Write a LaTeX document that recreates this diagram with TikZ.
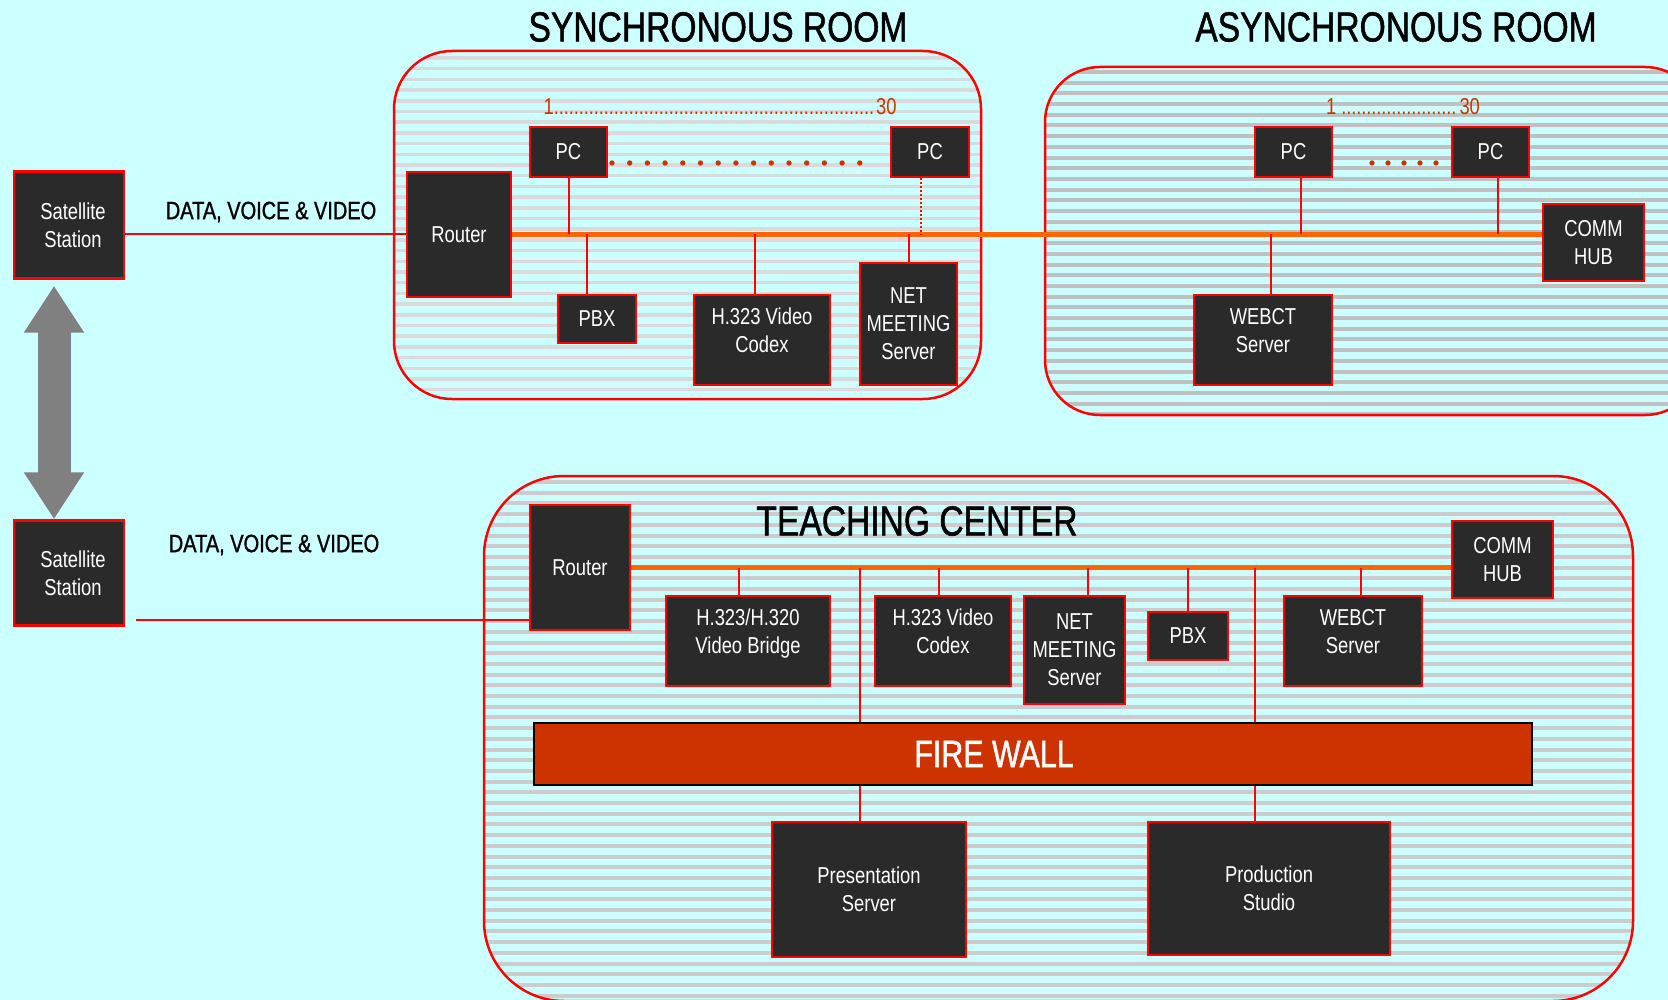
\documentclass[tikz,border=0pt]{standalone}
\usepackage{fontspec}
\setmainfont{Liberation Sans}[FakeStretch=0.8]
\newfontfamily\headfont{Liberation Sans}[FakeStretch=0.8, FakeBold=1.2]
\usetikzlibrary{arrows.meta}
\definecolor{bgcyan}{HTML}{CCFFFF}
\definecolor{boxgray}{HTML}{2A2A2A}
\definecolor{busorange}{HTML}{FF6600}
\definecolor{dotred}{HTML}{CC3300}
\definecolor{stripeA}{HTML}{DADADA}
\definecolor{stripeB}{HTML}{C0C0C0}
\definecolor{stripeC}{HTML}{CCCCCC}
\newcommand\tightdots{\leaders\hbox to 5pt{\hss.\hss}\hfill}
\begin{document}
\begin{tikzpicture}[x=1pt, y=-1pt,
    unit/.style ={draw=red, line width=2.5pt, fill=boxgray, text=white, align=center,
      inner sep=0pt, font=\fontsize{23}{28}\selectfont},
    raised/.style ={text depth=19pt},
    wall/.style ={draw=black, line width=2.5pt, fill=dotred, text=white,
      inner sep=0pt, font=\headfont\fontsize{38}{38}\selectfont},
    room/.style ={draw=red, line width=2.5pt},
    bus/.style ={busorange, line width=5pt},
    wire/.style ={red, line width=2pt},
    roomtitle/.style ={font=\headfont\fontsize{42}{42}\selectfont},
    tally/.style ={text=dotred, inner sep=0pt, font=\fontsize{23}{23}\selectfont},
    datalabel/.style ={font=\headfont\fontsize{25}{25}\selectfont}]
   \useasboundingbox (0,0) rectangle (1668,1000);
   \fill[bgcyan] (0,0) rectangle (1668,1000);
   \clip (0,0) rectangle (1668,1000);
   % rooms
   \begin{scope}
     \clip[rounded corners=58] (394,51) rectangle (981,399);
     \foreach \y in {58,68.7,...,399} \draw[stripeA, line width=3.5pt] (394,\y) -- (981,\y);
   \end{scope}
   \draw[room, rounded corners=58] (394,51) rectangle (981,399);
   \begin{scope}
     \clip[rounded corners=55] (1045,67) rectangle (1700,415);
     \foreach \y in {72,82.7,...,415} \draw[stripeB, line width=4pt] (1045,\y) -- (1700,\y);
   \end{scope}
   \draw[room, rounded corners=55] (1045,67) rectangle (1700,415);
   \begin{scope}
     \clip[rounded corners=80] (484,476) rectangle (1633,1001);
     \foreach \y in {482,492.7,...,1001} \draw[stripeC, line width=4pt] (484,\y) -- (1633,\y);
   \end{scope}
   \draw[room, rounded corners=80] (484,476) rectangle (1633,1001);
   \node[roomtitle] (t1) at (718,27) {SYNCHRONOUS ROOM};
   \node[roomtitle] (t2) at (1396,27) {ASYNCHRONOUS ROOM};
   \node[roomtitle] (t3) at (917,521) {TEACHING CENTER};
   % satellites
   \node[unit, minimum width=110, minimum height=107] (s1) at (69,225) {\hspace*{8pt}Satellite\\\hspace*{8pt}Station};
   \node[unit, minimum width=110, minimum height=105] (s2) at (69,573) {\hspace*{8pt}Satellite\\\hspace*{8pt}Station};
   \node[datalabel] (d1) at (271,212) {DATA, VOICE \& VIDEO};
   \node[datalabel] (d2) at (274,545) {DATA, VOICE \& VIDEO};
   % synchronous room
   \node[unit, minimum width=104, minimum height=125] (r1) at (459,234.5) {Router};
   \node[unit, minimum width=77, minimum height=50] (pc1) at (568.5,152) {PC};
   \node[unit, minimum width=78, minimum height=50] (pc2) at (930,152) {PC};
   \node[unit, minimum width=78, minimum height=48] (pbx1) at (597,319) {PBX};
   \node[unit, raised, minimum width=136, minimum height=90] (cod1) at (762,340) {H.323 Video\\Codex};
   \node[unit, minimum width=97, minimum height=122] (net1) at (908.5,324) {NET\\MEETING\\Server};
   \node[tally] (n1) at (720,107) {1\hbox to 322pt{\tightdots}30};
   \foreach \x in {0,...,14} \fill[dotred] (612+17.7*\x,163) circle (2.7);
   % asynchronous room
   \node[unit, minimum width=77, minimum height=50] (pc3) at (1293.5,152) {PC};
   \node[unit, minimum width=77, minimum height=50] (pc4) at (1490.5,152) {PC};
   \node[unit, minimum width=101, minimum height=77] (hub1) at (1593.5,242.5) {COMM\\HUB};
   \node[unit, raised, minimum width=138, minimum height=90] (web1) at (1263,340) {WEBCT\\Server};
   \node[tally] (n2) at (1403,107) {1 \hbox to 118pt{\tightdots}30};
   \foreach \x in {0,...,4} \fill[dotred] (1372+16*\x,163) circle (2.7);
   % teaching center
   \node[unit, minimum width=100, minimum height=125] (r2) at (580,567.5) {Router};
   \node[unit, minimum width=101, minimum height=77] (hub2) at (1502.5,559.5) {COMM\\HUB};
   \node[unit, raised, minimum width=164, minimum height=90] (brg) at (748,641) {H.323/H.320\\Video Bridge};
   \node[unit, raised, minimum width=136, minimum height=90] (cod2) at (943,641) {H.323 Video\\Codex};
   \node[unit, minimum width=101, minimum height=108] (net2) at (1074.5,650) {NET\\MEETING\\Server};
   \node[unit, minimum width=80, minimum height=48] (pbx2) at (1188,636) {PBX};
   \node[unit, raised, minimum width=138, minimum height=90] (web2) at (1353,641) {WEBCT\\Server};
   \node[wall, minimum width=998, minimum height=62] (fw) at (1033,754) {\hspace*{-78pt}FIRE WALL};
   \node[unit, minimum width=194, minimum height=135] (pres) at (869,889.5) {Presentation\\Server};
   \node[unit, minimum width=242, minimum height=133] (prod) at (1269,888.5) {Production\\Studio};
   % links
   \draw[wire] (s1.east |- r1.west) -- (r1.west);
   \coordinate (s2out) at (136,620);
   \draw[wire] (s2out) -- (s2out -| r2.west);
   \draw[bus] (r1.east) -- (r1.east -| hub1.west);
   \draw[bus] (r2.east) -- (r2.east -| hub2.west);
   \draw[wire] (pc1.south) -- (pc1.south |- r1.east);
   \draw[wire, dotted] ([xshift=-9pt]pc2.south) -- ([xshift=-9pt]pc2.south |- r1.east);
   \draw[wire] ([xshift=-10pt]pbx1.north) -- ([xshift=-10pt]pbx1.north |- r1.east);
   \draw[wire] ([xshift=-7pt]cod1.north) -- ([xshift=-7pt]cod1.north |- r1.east);
   \draw[wire] (net1.north) -- (net1.north |- r1.east);
   \draw[wire] ([xshift=7pt]pc3.south) -- ([xshift=7pt]pc3.south |- r1.east);
   \draw[wire] ([xshift=7pt]pc4.south) -- ([xshift=7pt]pc4.south |- r1.east);
   \draw[wire] ([xshift=8pt]web1.north) -- ([xshift=8pt]web1.north |- r1.east);
   \draw[wire] ([xshift=-9pt]brg.north) -- ([xshift=-9pt]brg.north |- r2.east);
   \draw[wire] ([xshift=-4pt]cod2.north) -- ([xshift=-4pt]cod2.north |- r2.east);
   \draw[wire] ([xshift=13pt]net2.north) -- ([xshift=13pt]net2.north |- r2.east);
   \draw[wire] (pbx2.north) -- (pbx2.north |- r2.east);
   \draw[wire] ([xshift=8pt]web2.north) -- ([xshift=8pt]web2.north |- r2.east);
   \draw[wire] ([xshift=-9pt]pres.north |- r2.east) -- ([xshift=-9pt]pres.north |- fw.north);
   \draw[wire] ([xshift=-9pt]pres.north |- fw.south) -- ([xshift=-9pt]pres.north);
   \draw[wire] ([xshift=-14pt]prod.north |- r2.east) -- ([xshift=-14pt]prod.north |- fw.north);
   \draw[wire] ([xshift=-14pt]prod.north |- fw.south) -- ([xshift=-14pt]prod.north);
   \draw[gray, line width=33pt, {Triangle[length=47pt, width=57pt]}-{Triangle[length=47pt, width=57pt]}]
     ([xshift=-15pt, yshift=-6pt]s1.south) -- ([xshift=-15pt]s2.north);
\end{tikzpicture}
\end{document}
